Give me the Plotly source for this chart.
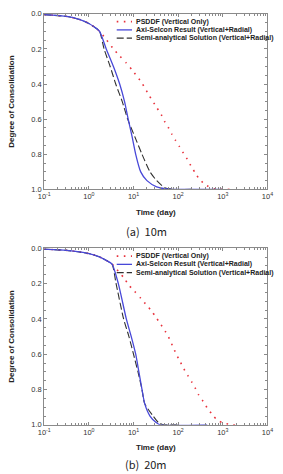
import plotly.graph_objects as go

# ---------------- data ----------------
# (a) 10m
t_blue_a = [0.1, 0.32, 0.63, 1.0, 1.41, 1.74, 2.45, 3.55, 4.9, 6.3, 7.6, 9.3, 11.2, 14.5, 20, 33, 56, 100, 1000]
u_blue_a = [0.005, 0.015, 0.033, 0.055, 0.08, 0.10, 0.2, 0.3, 0.4, 0.5, 0.6, 0.7, 0.8, 0.9, 0.95, 0.985, 0.997, 1.0, 1.0]
t_dash_a = [0.1, 0.32, 0.63, 1.0, 1.41, 1.74, 2.19, 3.0, 4.0, 5.6, 7.4, 10.7, 15.5, 23.4, 33, 50, 79, 200]
u_dash_a = [0.005, 0.015, 0.033, 0.055, 0.08, 0.10, 0.2, 0.3, 0.4, 0.5, 0.6, 0.7, 0.8, 0.9, 0.95, 0.99, 1.0, 1.0]
t_red_a = [0.1, 0.32, 0.63, 1.0, 1.41, 1.74, 2.19, 3.7, 4.9, 6.9, 9.3, 15.1, 22.4, 32.4, 41.7, 49, 60, 72, 87,
           107, 132, 162, 195, 240, 302, 437, 631, 933, 1413]
u_red_a = [0.005, 0.015, 0.033, 0.055, 0.08, 0.10, 0.13, 0.205, 0.24, 0.28, 0.32, 0.39, 0.465, 0.53, 0.574, 0.61,
           0.646, 0.685, 0.72, 0.756, 0.795, 0.83, 0.868, 0.905, 0.944, 0.978, 0.996, 1.0, 1.0]

# (b) 20m
t_blue_b = [0.1, 0.32, 1.0, 1.78, 2.51, 3.31, 4.57, 6.9, 8.9, 11.2, 13.2, 15.5, 17.8, 23.4, 31.6, 39.8, 447]
u_blue_b = [0.005, 0.012, 0.03, 0.05, 0.07, 0.09, 0.2, 0.4, 0.5, 0.6, 0.7, 0.8, 0.88, 0.95, 0.985, 1.0, 1.0]
t_dash_b = [0.1, 0.32, 1.0, 1.78, 2.51, 3.31, 4.07, 6.0, 7.9, 10, 12.6, 15.5, 17.8, 27.5, 35.5, 44.7, 100]
u_dash_b = [0.005, 0.012, 0.03, 0.05, 0.07, 0.09, 0.2, 0.4, 0.5, 0.6, 0.7, 0.8, 0.88, 0.95, 0.985, 0.998, 1.0]
t_red_b = [0.1, 0.32, 1.0, 1.78, 2.51, 3.31, 4.57, 6.2, 7.9, 10.5, 14.5, 20, 25.7, 32.4, 40.7, 51.3, 60.3, 74, 91,
           112, 132, 162, 200, 240, 288, 363, 447, 575, 741, 1047, 1622, 2399]
u_red_b = [0.005, 0.012, 0.03, 0.05, 0.07, 0.09, 0.13, 0.17, 0.21, 0.243, 0.283, 0.324, 0.357, 0.394, 0.43, 0.47,
           0.5, 0.55, 0.6, 0.644, 0.68, 0.718, 0.756, 0.79, 0.83, 0.867, 0.904, 0.94, 0.972, 0.99, 1.0, 1.0]

series_names = ["PSDDF (Vertical Only)", "Axi-Selcon Result (Vertical+Radial)",
                "Semi-analytical Solution (Vertical+Radial)"]
x_tickvals = [0.1, 1, 10, 100, 1000, 10000]
x_ticktext = ["10<sup>-1</sup>", "10<sup>0</sup>", "10<sup>1</sup>", "10<sup>2</sup>", "10<sup>3</sup>", "10<sup>4</sup>"]
y_tickvals = [0.0, 0.2, 0.4, 0.6, 0.8, 1.0]
y_ticktext = ["0.0", "0.2", "0.4", "0.6", "0.8", "1.0"]
captions = ["(a)  10m", "(b)  20m"]

# ---------------- styling ----------------
W, H = 283, 474
RED = "#e8323c"
BLUE = "#4848d8"
DARK = "#303030"
FRAME = "#8a8a8a"
FONT = "Liberation Sans"

def px_x(p):
    return p / W

def px_y(p):
    return 1 - p / H

fig = go.Figure()

panels = [
    dict(xa="x", ya="y", top=10, bot=189,
         red=(t_red_a, u_red_a), blue=(t_blue_a, u_blue_a), dash=(t_dash_a, u_dash_a)),
    dict(xa="x2", ya="y2", top=249, bot=429,
         red=(t_red_b, u_red_b), blue=(t_blue_b, u_blue_b), dash=(t_dash_b, u_dash_b)),
]

RED_DASH = "1.6px,5.5px"
BLK_DASH = "7px,3px"

for p in panels:
    fig.add_trace(go.Scatter(x=p["red"][0], y=p["red"][1], mode="lines", xaxis=p["xa"], yaxis=p["ya"],
                             line=dict(color=RED, width=1.6, dash=RED_DASH, shape="spline", smoothing=0.6),
                             showlegend=False, name=series_names[0]))
    fig.add_trace(go.Scatter(x=p["dash"][0], y=p["dash"][1], mode="lines", xaxis=p["xa"], yaxis=p["ya"],
                             line=dict(color=DARK, width=1.1, dash=BLK_DASH, shape="spline", smoothing=0.6),
                             showlegend=False, name=series_names[2]))
    fig.add_trace(go.Scatter(x=p["blue"][0], y=p["blue"][1], mode="lines", xaxis=p["xa"], yaxis=p["ya"],
                             line=dict(color=BLUE, width=1.3, shape="spline", smoothing=0.6),
                             showlegend=False, name=series_names[1]))

axis_common_x = dict(type="log", range=[-1, 4], tickvals=x_tickvals, ticktext=x_ticktext,
                     ticks="inside", ticklen=3, tickcolor=FRAME, showline=True, linecolor=FRAME, linewidth=1,
                     mirror="ticks", showgrid=False, zeroline=False,
                     tickfont=dict(family=FONT, size=7.5, color="#333"),
                     minor=dict(ticks="inside", ticklen=2, tickcolor=FRAME, dtick="D1", showgrid=False),
                     title=dict(text="<b>Time (day)</b>", font=dict(family=FONT, size=8, color="#222"), standoff=8),
                     domain=[px_x(39), px_x(273)])
axis_common_y = dict(range=[1.0, 0.0], tickvals=y_tickvals, ticktext=y_ticktext,
                     ticks="inside", ticklen=3, tickcolor=FRAME, showline=True, linecolor=FRAME, linewidth=1,
                     mirror="ticks", showgrid=False, zeroline=False,
                     tickfont=dict(family=FONT, size=7.5, color="#333"),
                     minor=dict(ticks="inside", ticklen=2, tickcolor=FRAME, dtick=0.05, showgrid=False),
                     title=dict(text="<b>Degree of Consolidation</b>", font=dict(family=FONT, size=8, color="#222"),
                                standoff=15))

fig.update_layout(
    xaxis=dict(axis_common_x, anchor="y"),
    yaxis=dict(axis_common_y, anchor="x", domain=[px_y(189), px_y(10)]),
    xaxis2=dict(axis_common_x, anchor="y2"),
    yaxis2=dict(axis_common_y, anchor="x2", domain=[px_y(429), px_y(249)]),
)

# manual legends + captions
shapes = []
annotations = []
leg_styles = [dict(color=RED, width=1.6, dash=RED_DASH),
              dict(color=BLUE, width=1.3, dash="solid"),
              dict(color=DARK, width=1.1, dash=BLK_DASH)]
for p, cap, cap_y in zip(panels, captions, [231, 469]):
    for i, (nm, st) in enumerate(zip(series_names, leg_styles)):
        yy = p["top"] + 8 + i * 8.4
        shapes.append(dict(type="line", xref="paper", yref="paper", x0=px_x(115), x1=px_x(131),
                           y0=px_y(yy), y1=px_y(yy), line=st))
        annotations.append(dict(text="<b>" + nm + "</b>", xref="paper", yref="paper", x=px_x(133), y=px_y(yy),
                                xanchor="left", yanchor="middle", showarrow=False,
                                font=dict(family=FONT, size=7, color="#222")))
    annotations.append(dict(text=cap, xref="paper", yref="paper", x=px_x(146), y=px_y(cap_y),
                            xanchor="center", yanchor="middle", showarrow=False,
                            font=dict(family="Noto Sans CJK KR", size=11, color="#222")))

fig.update_layout(shapes=shapes, annotations=annotations,
                  width=W, height=H, margin=dict(l=0, r=0, t=0, b=0),
                  paper_bgcolor="white", plot_bgcolor="white", showlegend=False)

fig.write_html("out.html")
